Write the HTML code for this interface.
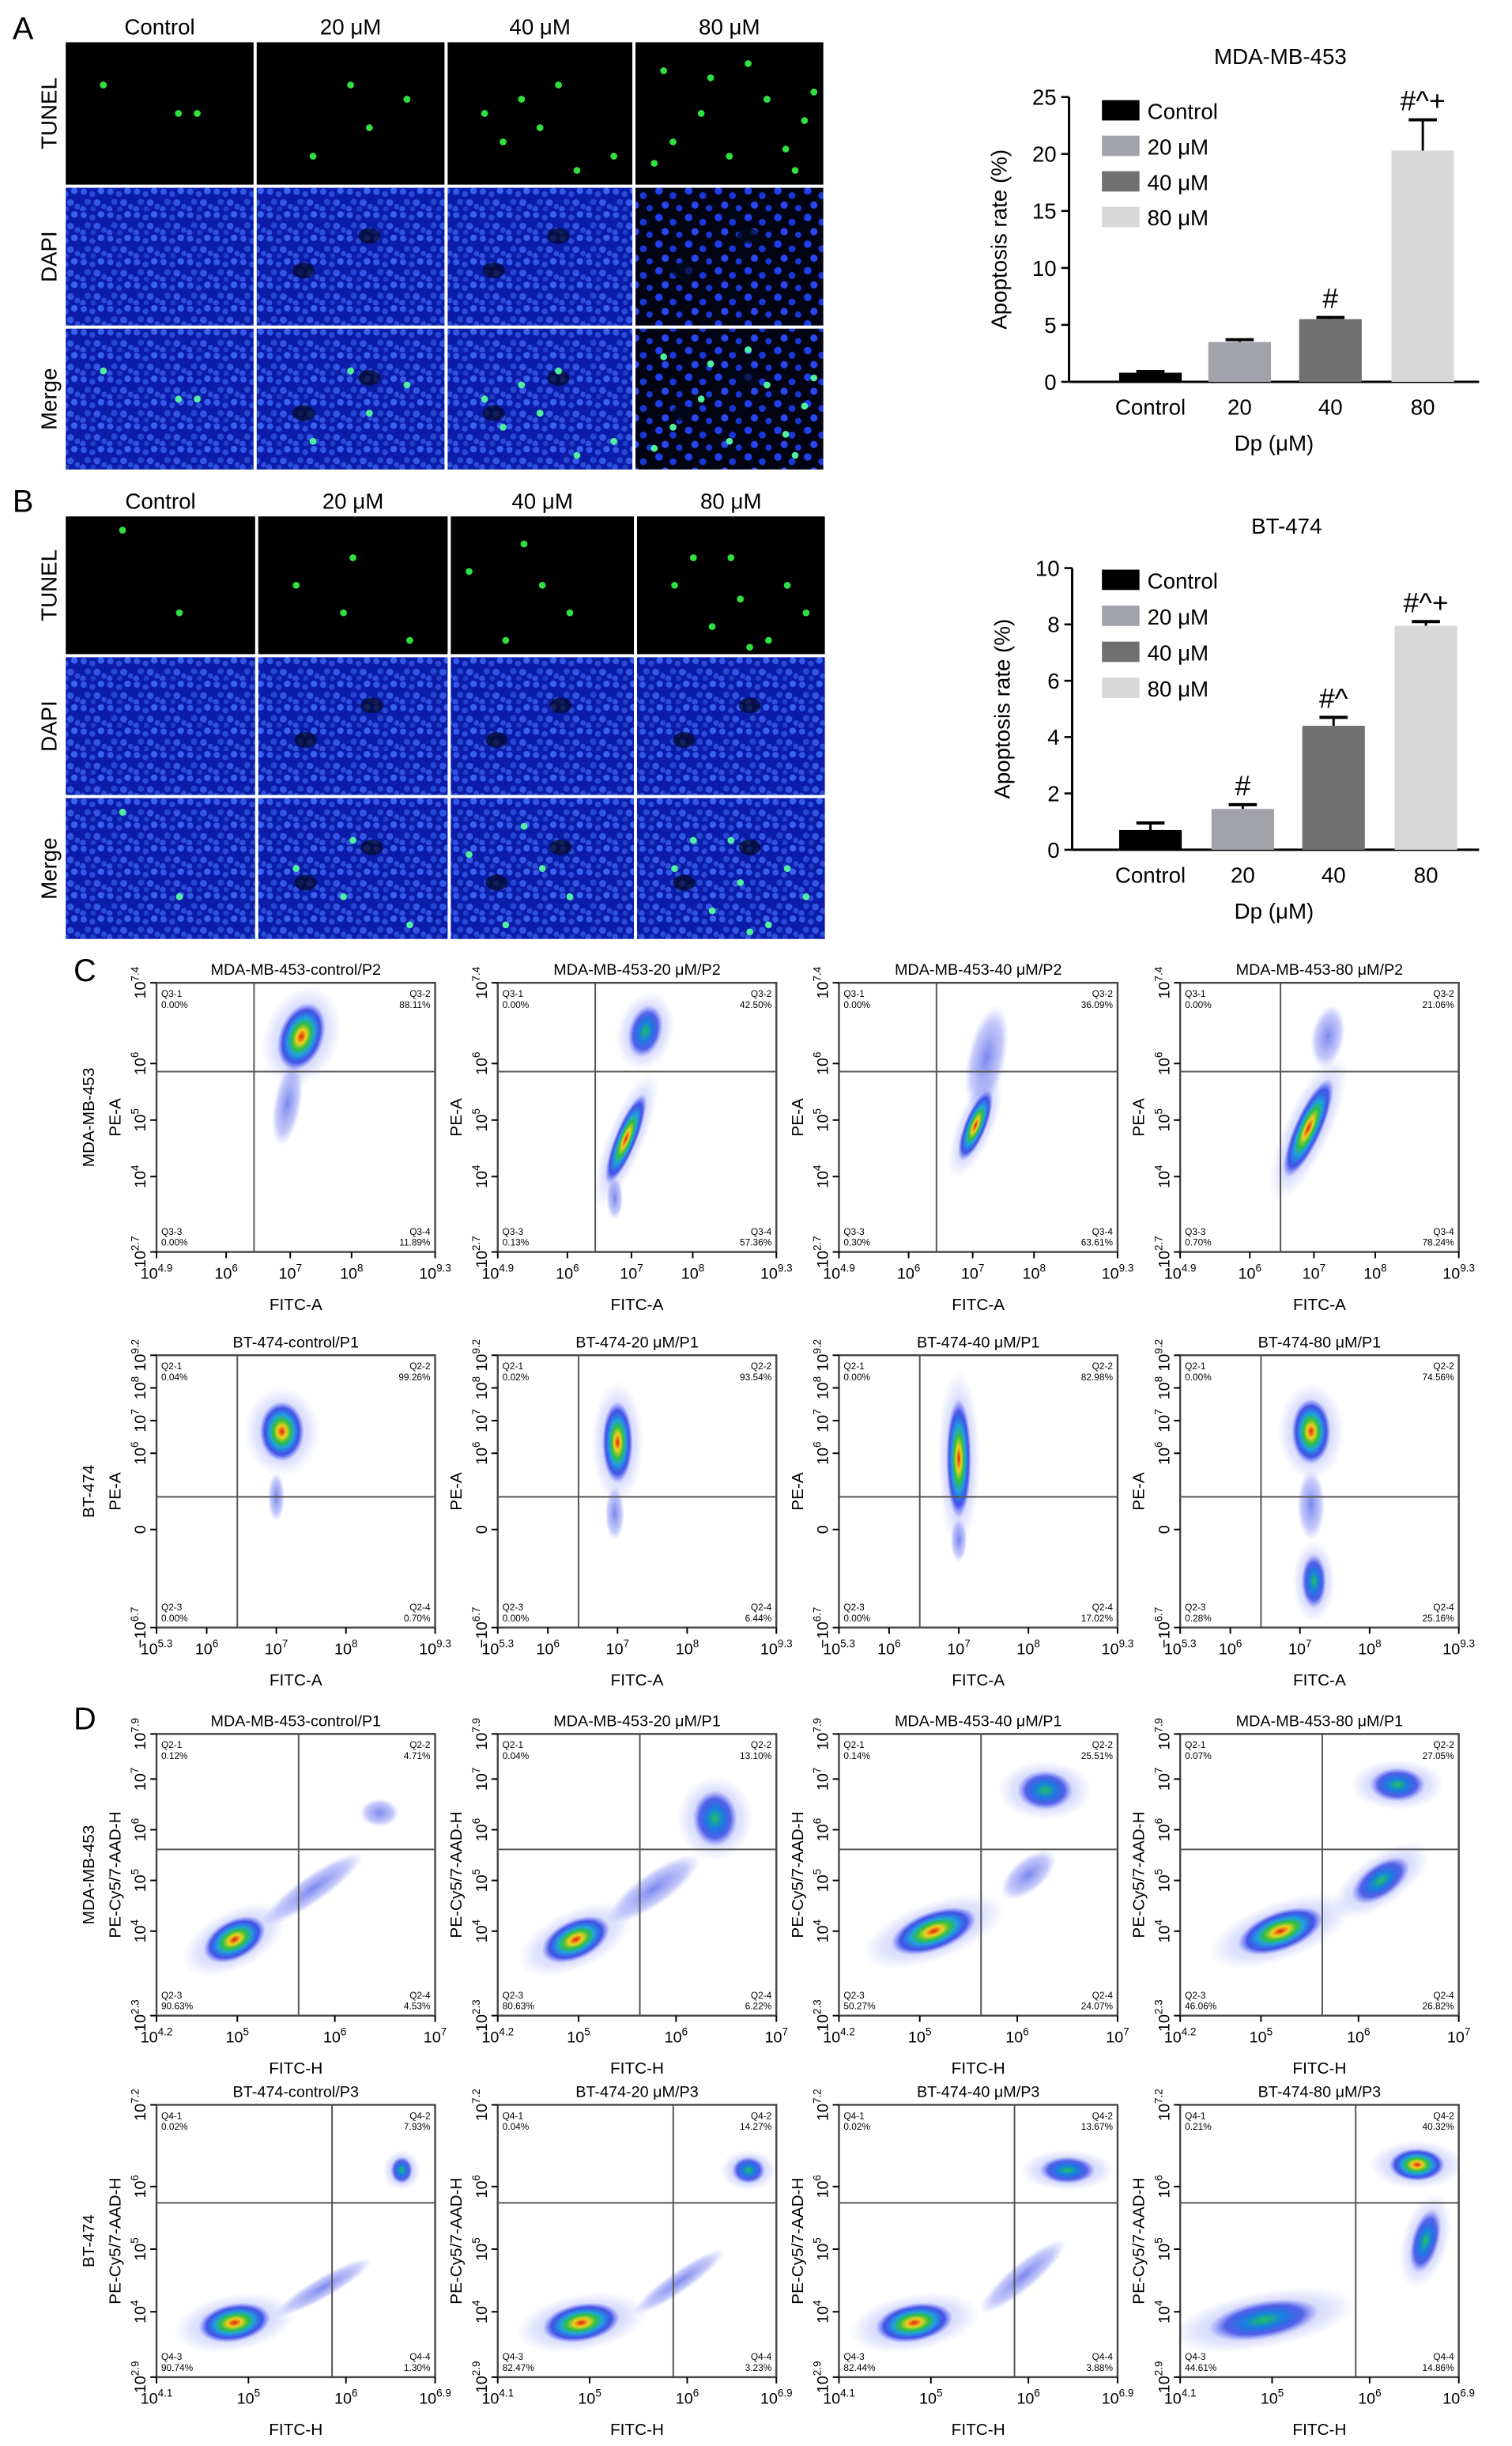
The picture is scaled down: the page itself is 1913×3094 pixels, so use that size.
<!DOCTYPE html>
<html><head><meta charset="utf-8">
<style>
html,body{margin:0;padding:0;background:#fff;}
svg{display:block;font-family:"Liberation Sans",Arial,sans-serif;}
</style></head>
<body>
<svg id="fig" width="1913" height="3094" viewBox="0 0 966 1563" preserveAspectRatio="none" xmlns="http://www.w3.org/2000/svg">
<defs>
<pattern id="dapi" width="17" height="15" patternUnits="userSpaceOnUse">
<rect width="17" height="15" fill="#0a1ca8"/>
<circle cx="2.5" cy="2.5" r="2" fill="#3358e8"/><circle cx="8" cy="4" r="1.9" fill="#2a4cd8"/>
<circle cx="13.5" cy="2" r="2.1" fill="#3a62f0"/><circle cx="5" cy="9" r="2" fill="#2548d0"/>
<circle cx="11" cy="9.5" r="2.2" fill="#3356e6"/><circle cx="15.5" cy="12" r="1.8" fill="#2a4cd8"/>
<circle cx="2" cy="13.5" r="1.9" fill="#3050e0"/><circle cx="8.5" cy="13.5" r="1.7" fill="#2040c8"/>
</pattern>
<pattern id="dapiS" width="19" height="17" patternUnits="userSpaceOnUse">
<rect width="19" height="17" fill="#020414"/>
<circle cx="3" cy="3" r="2.4" fill="#2040f0"/><circle cx="12" cy="6" r="2.2" fill="#1a38d8"/>
<circle cx="7" cy="12" r="2.3" fill="#2a48f0"/><circle cx="16" cy="14" r="2" fill="#1a38d8"/>
</pattern>
<radialGradient id="core"><stop offset="0" stop-color="#e02010"/><stop offset=".2" stop-color="#f0d020"/><stop offset=".38" stop-color="#30c040"/><stop offset=".55" stop-color="#20a0e0"/><stop offset=".78" stop-color="#2030e0" stop-opacity=".8"/><stop offset="1" stop-color="#4050ff" stop-opacity="0"/></radialGradient>
<radialGradient id="mid"><stop offset="0" stop-color="#20c060"/><stop offset=".35" stop-color="#1880e0"/><stop offset=".7" stop-color="#2030e0" stop-opacity=".7"/><stop offset="1" stop-color="#5060ff" stop-opacity="0"/></radialGradient>
<radialGradient id="sparse"><stop offset="0" stop-color="#2838e0" stop-opacity=".6"/><stop offset=".7" stop-color="#4050f0" stop-opacity=".3"/><stop offset="1" stop-color="#7080ff" stop-opacity="0"/></radialGradient>
<radialGradient id="halo"><stop offset="0" stop-color="#3040e8" stop-opacity=".35"/><stop offset=".7" stop-color="#5060f0" stop-opacity=".18"/><stop offset="1" stop-color="#7080ff" stop-opacity="0"/></radialGradient>
</defs>
</svg>
<script>
// ---------- bar chart data ----------
const barCats = ["Control","20","40","80"];
const legendLabels = ["Control","20 μM","40 μM","80 μM"];
const barColors = ["#000000","#a2a2aa","#707070","#d8d8d8"];
const valsA = [0.8, 3.5, 5.5, 20.3];
const errA = [0.1, 0.2, 0.15, 2.7];
const sigA = ["", "", "#", "#^+"];
const ticksA = [0,5,10,15,20,25];
const valsB = [0.7, 1.45, 4.4, 7.95];
const errB = [0.25, 0.15, 0.3, 0.15];
const sigB = ["", "#", "#^", "#^+"];
const ticksB = [0,2,4,6,8,10];

const NS="http://www.w3.org/2000/svg";
const svg=document.getElementById('fig');
function mk(tag,attrs,parent){const e=document.createElementNS(NS,tag);for(const k in attrs)e.setAttribute(k,attrs[k]);(parent||svg).appendChild(e);return e;}
function txt(x,y,s,size,extra,parent){const e=mk('text',Object.assign({x:x,y:y,'font-size':size,'text-anchor':'middle',fill:'#000'},extra||{}),parent);e.textContent=s;return e;}

[["A",8,25],["B",8,327],["C",47,627],["D",47,1105]].forEach(p=>{
  const t=txt(p[1],p[2],p[0],20,{'text-anchor':'start'});
  
  
});

// ---------- micrographs ----------
const colLabels=["Control","20 μM","40 μM","80 μM"];
const rowLabels=["TUNEL","DAPI","Merge"];
const greenDots=[
 [[.2,.3],[.6,.5],[.7,.5]],
 [[.5,.3],[.6,.6],[.8,.4],[.3,.8]],
 [[.2,.5],[.4,.4],[.5,.6],[.6,.3],[.9,.8],[.3,.7],[.7,.9]],
 [[.15,.2],[.4,.25],[.7,.4],[.9,.55],[.2,.7],[.5,.8],[.8,.75],[.35,.5],[.6,.15],[.85,.9],[.1,.85],[.95,.35]]
];
const greenDotsB=[
 [[.3,.1],[.6,.7]],
 [[.2,.5],[.5,.3],[.45,.7],[.8,.9]],
 [[.1,.4],[.4,.2],[.5,.5],[.65,.7],[.3,.9]],
 [[.2,.5],[.5,.3],[.55,.6],[.8,.5],[.4,.8],[.7,.9],[.9,.7],[.3,.3],[.6,.95]]
];
function micro(x0,y0,colsX,rowsY,dots,id,sparse80){
  colLabels.forEach((c,i)=>{
    const t=txt((colsX[i][0]+colsX[i][1])/2,y0-5,c,14);
    
    
  });
  rowLabels.forEach((r,j)=>{
    const cy=(rowsY[j][0]+rowsY[j][1])/2;
    const t=txt(0,0,r,14,{transform:`translate(36,${cy}) rotate(-90)`});
    
    
    colsX.forEach((c,i)=>{
      const w=c[1]-c[0],h=rowsY[j][1]-rowsY[j][0];
      let fill = j===0 ? '#000' : (sparse80 && i===3 ? 'url(#dapiS)' : 'url(#dapi)');
      const rct=mk('rect',{x:c[0],y:rowsY[j][0],width:w,height:h,fill:fill});
      
      
      if(j>0 && i>0){
        [[.25,.6],[.6,.35]].forEach(p=>{
          const d=mk('ellipse',{cx:c[0]+w*p[0],cy:rowsY[j][0]+h*p[1],rx:7,ry:5,fill:'#030820',opacity:.7});
          
          
        });
      }
      if(j!==1){
        dots[i].forEach(p=>{
          const d=mk('circle',{cx:c[0]+w*p[0],cy:rowsY[j][0]+h*p[1],r:2.2,fill:j===0?'#30e040':'#50f0a0'});
          
          
        });
      }
    });
  });
}
micro(42,27,[[42,162],[164,284],[286,404],[406,526]],[[27,118],[120,208],[210,300]],greenDots,'a',true);
micro(42,330,[[42,163],[165,286],[288,405],[407,527]],[[330,418],[420,508],[510,600]],greenDotsB,'b',false);

// ---------- bar charts ----------
function barChart(o){
  const ys=v=>o.y0-(v/o.max)*(o.y0-o.yTop);
  const t=txt(o.titleX,o.titleY,o.title,14);
  
  
  const ax=mk('line',{x1:o.axX,y1:o.yTop,x2:o.axX,y2:o.y0,stroke:'#000','stroke-width':1.5});
  
  
  const bx=mk('line',{x1:o.axX,y1:o.y0,x2:o.axEnd,y2:o.y0,stroke:'#000','stroke-width':1.5});
  
  
  o.ticks.forEach(v=>{
    const l=mk('line',{x1:o.axX-5,y1:ys(v),x2:o.axX,y2:ys(v),stroke:'#000','stroke-width':1.3});
    
    
    const tt=txt(o.axX-8,ys(v)+5,String(v),14,{'text-anchor':'end'});
    
    
  });
  const yt=txt(0,0,'Apoptosis rate (%)',14,{transform:`translate(${o.axX-40},${(o.y0+o.yTop)/2}) rotate(-90)`});
  
  
  o.vals.forEach((v,i)=>{
    const cx=o.xs[i];
    const top=ys(v+o.err[i]);
    const e1=mk('line',{x1:cx,y1:ys(v),x2:cx,y2:top,stroke:'#000','stroke-width':1.5});
    
    
    const e2=mk('line',{x1:cx-9,y1:top,x2:cx+9,y2:top,stroke:'#000','stroke-width':2});
    
    
    const r=mk('rect',{x:cx-20,y:ys(v),width:40,height:o.y0-ys(v),fill:barColors[i]});
    
    
    if(o.sig[i]){
      const s=txt(cx,top-6,o.sig[i],18);
      
      
    }
    const xl=txt(cx,o.y0+21,barCats[i],14);
    
    
  });
  const xt=txt(814,o.y0+44,'Dp (μM)',14);
  
  
  legendLabels.forEach((l,i)=>{
    const y=o.legY+i*o.legStep;
    const r=mk('rect',{x:704,y:y-7,width:24,height:13,fill:barColors[i]});
    
    
    const t=txt(733,y+5,l,14,{'text-anchor':'start'});
    
    
  });
}
barChart({id:'a',title:'MDA-MB-453',titleX:818,titleY:41,axX:683,axEnd:945,y0:244,yTop:62,max:25,ticks:ticksA,vals:valsA,err:errA,sig:sigA,xs:[735,792,850,909],legY:71,legStep:22.7});
barChart({id:'b',title:'BT-474',titleX:822,titleY:341,axX:685,axEnd:945,y0:543,yTop:363,max:10,ticks:ticksB,vals:valsB,err:errB,sig:sigB,xs:[735,794,852,911],legY:371,legStep:23});

// ---------- flow cytometry ----------
const plotX=[100,318,536,754];
const flowRows=[
 {id:'c1',y0:628,h:172,titles:["MDA-MB-453-control/P2","MDA-MB-453-20 μM/P2","MDA-MB-453-40 μM/P2","MDA-MB-453-80 μM/P2"],
  vline:[.35,.35,.35,.36],hline:.67,q:'Q3',qv:[["0.00%","88.11%","0.00%","11.89%"],["0.00%","42.50%","0.13%","57.36%"],["0.00%","36.09%","0.30%","63.61%"],["0.00%","21.06%","0.70%","78.24%"]],
  xt:[["10^4.9",0],["10^6",.25],["10^7",.48],["10^8",.7],["10^9.3",1]],yt:[["10^7.4",1],["10^6",.7],["10^5",.49],["10^4",.28],["10^2.7",0]],
  xlab:'FITC-A',ylab:'PE-A',side:'MDA-MB-453'},
 {id:'c2',y0:866,h:174,titles:["BT-474-control/P1","BT-474-20 μM/P1","BT-474-40 μM/P1","BT-474-80 μM/P1"],
  vline:[.29,.29,.29,.29],hline:.48,q:'Q2',qv:[["0.04%","99.26%","0.00%","0.70%"],["0.02%","93.54%","0.00%","6.44%"],["0.00%","82.98%","0.00%","17.02%"],["0.00%","74.56%","0.28%","25.16%"]],
  xt:[["10^5.3",0],["10^6",.18],["10^7",.43],["10^8",.68],["10^9.3",1]],yt:[["10^9.2",1],["10^8",.88],["10^7",.76],["10^6",.64],["0",.36],["-10^6.7",0]],
  xlab:'FITC-A',ylab:'PE-A',side:'BT-474'},
 {id:'d1',y0:1108,h:180,titles:["MDA-MB-453-control/P1","MDA-MB-453-20 μM/P1","MDA-MB-453-40 μM/P1","MDA-MB-453-80 μM/P1"],
  vline:[.51,.51,.51,.51],hline:.59,q:'Q2',qv:[["0.12%","4.71%","90.63%","4.53%"],["0.04%","13.10%","80.63%","6.22%"],["0.14%","25.51%","50.27%","24.07%"],["0.07%","27.05%","46.06%","26.82%"]],
  xt:[["10^4.2",0],["10^5",.29],["10^6",.64],["10^7",1]],yt:[["10^7.9",1],["10^7",.84],["10^6",.66],["10^5",.48],["10^4",.3],["10^2.3",0]],
  xlab:'FITC-H',ylab:'PE-Cy5/7-AAD-H',side:'MDA-MB-453'},
 {id:'d2',y0:1345,h:174,titles:["BT-474-control/P3","BT-474-20 μM/P3","BT-474-40 μM/P3","BT-474-80 μM/P3"],
  vline:[.63,.63,.63,.63],hline:.64,q:'Q4',qv:[["0.02%","7.93%","90.74%","1.30%"],["0.04%","14.27%","82.47%","3.23%"],["0.02%","13.67%","82.44%","3.88%"],["0.21%","40.32%","44.61%","14.86%"]],
  xt:[["10^4.1",0],["10^5",.33],["10^6",.68],["10^6.9",1]],yt:[["10^7.2",1],["10^6",.7],["10^5",.47],["10^4",.24],["10^2.9",0]],
  xlab:'FITC-H',ylab:'PE-Cy5/7-AAD-H',side:'BT-474'}
];
// populations: [fx, fy(from bottom), rx, ry, angle, type]
const popsC1=[
 [[.47,.55,.05,.16,10,'sparse'],[.52,.8,.08,.13,20,'core']],
 [[.53,.82,.06,.1,15,'mid'],[.46,.42,.04,.18,22,'core'],[.42,.2,.03,.08,0,'sparse']],
 [[.53,.72,.07,.2,12,'sparse'],[.49,.47,.04,.14,22,'core']],
 [[.53,.8,.06,.12,10,'sparse'],[.46,.46,.05,.2,24,'core']]
];
const popsC2=[
 [[.45,.72,.08,.11,0,'core'],[.43,.48,.03,.09,0,'sparse']],
 [[.43,.68,.055,.15,0,'core'],[.42,.42,.035,.1,0,'sparse']],
 [[.43,.62,.045,.22,0,'core'],[.43,.32,.03,.08,0,'sparse']],
 [[.47,.72,.07,.12,0,'core'],[.47,.45,.05,.13,0,'sparse'],[.48,.17,.045,.1,0,'mid']]
];
const popsD1=[
 [[.28,.27,.12,.07,-28,'core'],[.56,.45,.22,.05,-35,'sparse'],[.8,.72,.07,.05,0,'sparse']],
 [[.28,.27,.13,.07,-25,'core'],[.56,.45,.2,.06,-35,'sparse'],[.78,.7,.08,.1,0,'mid']],
 [[.34,.3,.16,.07,-20,'core'],[.68,.5,.12,.06,-40,'sparse'],[.74,.8,.1,.07,0,'mid']],
 [[.36,.3,.16,.07,-20,'core'],[.72,.48,.12,.06,-35,'mid'],[.78,.82,.1,.06,0,'mid']]
];
const popsD2=[
 [[.28,.2,.13,.07,-10,'core'],[.6,.33,.2,.04,-30,'sparse'],[.88,.76,.04,.05,0,'mid']],
 [[.3,.2,.14,.07,-10,'core'],[.65,.35,.2,.04,-35,'sparse'],[.9,.76,.06,.05,0,'mid']],
 [[.27,.2,.14,.07,-10,'core'],[.66,.37,.2,.05,-40,'sparse'],[.82,.76,.1,.05,0,'mid']],
 [[.3,.21,.2,.07,-10,'mid'],[.88,.5,.05,.12,15,'mid'],[.85,.78,.1,.06,0,'core']]
];
const popsAll={c1:popsC1,c2:popsC2,d1:popsD1,d2:popsD2};

function supLabel(parent,x,y,s,size,anchor,rot){
  const m=s.match(/^(-?)10\^(.*)$/);
  const e=mk('text',{x:x,y:y,'font-size':size,'text-anchor':anchor,fill:'#000'},parent);
  if(rot) e.setAttribute('transform',`rotate(-90 ${x} ${y})`);
  if(m){
    const a=document.createElementNS(NS,'tspan');a.textContent=(m[1]?'−':'')+'10';e.appendChild(a);
    const b=document.createElementNS(NS,'tspan');b.setAttribute('dy',-size*0.45);b.setAttribute('font-size',size*0.68);b.textContent=m[2];e.appendChild(b);
  } else e.textContent=s;
  return e;
}

flowRows.forEach(row=>{
  const W=178,H=row.h;
  const sl=txt(0,0,row.side,10.5,{transform:`translate(60,${row.y0+H/2}) rotate(-90)`});
  
  
  plotX.forEach((x0,i)=>{
    const g=mk('g',{});
    
    
    const sx=f=>x0+f*W, sy=f=>row.y0+H-f*H;
    const cp='clip-'+row.id+i;
    const cl=mk('clipPath',{id:cp},g);
    mk('rect',{x:x0,y:row.y0,width:W,height:H},cl);
    const pg=mk('g',{'clip-path':`url(#${cp})`},g);
    popsAll[row.id][i].forEach(p=>{
      if(p[5]!=='sparse'){
        const hh=mk('ellipse',{cx:sx(p[0]),cy:sy(p[1]),rx:p[2]*W*1.7,ry:p[3]*H*1.5,fill:'url(#halo)',transform:`rotate(${p[4]} ${sx(p[0])} ${sy(p[1])})`},pg);
        
        
      }
      const e=mk('ellipse',{cx:sx(p[0]),cy:sy(p[1]),rx:p[2]*W,ry:p[3]*H,fill:`url(#${p[5]})`,transform:`rotate(${p[4]} ${sx(p[0])} ${sy(p[1])})`},pg);
      
      
    });
    const box=mk('rect',{x:x0,y:row.y0,width:W,height:H,fill:'none',stroke:'#444','stroke-width':1.2},g);
    
    
    const vl=mk('line',{x1:sx(row.vline[i]),y1:row.y0,x2:sx(row.vline[i]),y2:row.y0+H,stroke:'#555','stroke-width':1},g);
    
    
    const hl=mk('line',{x1:x0,y1:sy(row.hline),x2:x0+W,y2:sy(row.hline),stroke:'#555','stroke-width':1},g);
    
    
    const t=txt(x0+W/2,row.y0-5,row.titles[i],10,{},g);
    
    
    const qv=row.qv[i];
    const qpos=[[x0+3,row.y0+9,'start',1],[x0+W-3,row.y0+9,'end',2],[x0+3,row.y0+H-11,'start',3],[x0+W-3,row.y0+H-11,'end',4]];
    qpos.forEach((q,k)=>{
      const a=txt(q[0],q[1],row.q+'-'+q[3],6,{'text-anchor':q[2]},g);
      
      
      const b=txt(q[0],q[1]+7,qv[k],6,{'text-anchor':q[2]},g);
      
      
    });
    row.xt.forEach(tk=>{
      const l=mk('line',{x1:sx(tk[1]),y1:row.y0+H,x2:sx(tk[1]),y2:row.y0+H+4,stroke:'#000'},g);
      
      
      const e=supLabel(g,sx(tk[1]),row.y0+H+17,tk[0],10,'middle',false);
      
      
    });
    row.yt.forEach(tk=>{
      const l=mk('line',{x1:x0-4,y1:sy(tk[1]),x2:x0,y2:sy(tk[1]),stroke:'#000'},g);
      
      
      const e=supLabel(g,x0-7,sy(tk[1]),tk[0],10,'middle',true);
      
      
    });
    const xl=txt(x0+W/2,row.y0+H+37,row.xlab,10.5,{},g);
    
    
    const yl=txt(0,0,row.ylab,10.5,{transform:`translate(${x0-23},${row.y0+H/2}) rotate(-90)`},g);
    
    
  });
});
</script>
</body></html>
